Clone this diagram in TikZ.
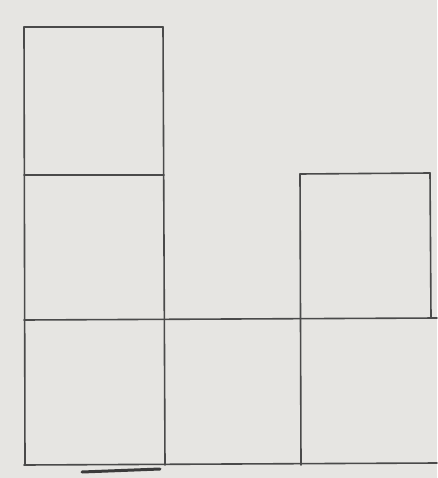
\documentclass[tikz,border=0pt]{standalone}
\definecolor{paper}{HTML}{E6E5E2}
\definecolor{pencil}{HTML}{4A4A4A}
\begin{document}
\begin{tikzpicture}[x=1pt,y=-1pt,
  gridline/.style={draw=pencil,line width=1.6pt,line cap=round}]
\fill[paper] (0,0) rectangle (437,478);
\useasboundingbox (0,0) rectangle (437,478);
% left column
\draw[gridline] (24,27) -- (163,27);
\draw[gridline] (24,27) -- (25,465);
\draw[gridline] (163,27) -- (165,465);
\draw[gridline] (24,175) -- (164,175);
% right column
\draw[gridline] (300,174) -- (430,173);
\draw[gridline] (300,174) -- (301,465);
\draw[gridline] (430,173) -- (431,318);
% long horizontals
\draw[gridline] (24,320) -- (437,318);
\draw[gridline] (24,465) -- (437,463);
% pen shadow under bottom line
\draw[pencil!80!black,line width=3pt,line cap=round] (82,472) -- (160,469);
\end{tikzpicture}
\end{document}
